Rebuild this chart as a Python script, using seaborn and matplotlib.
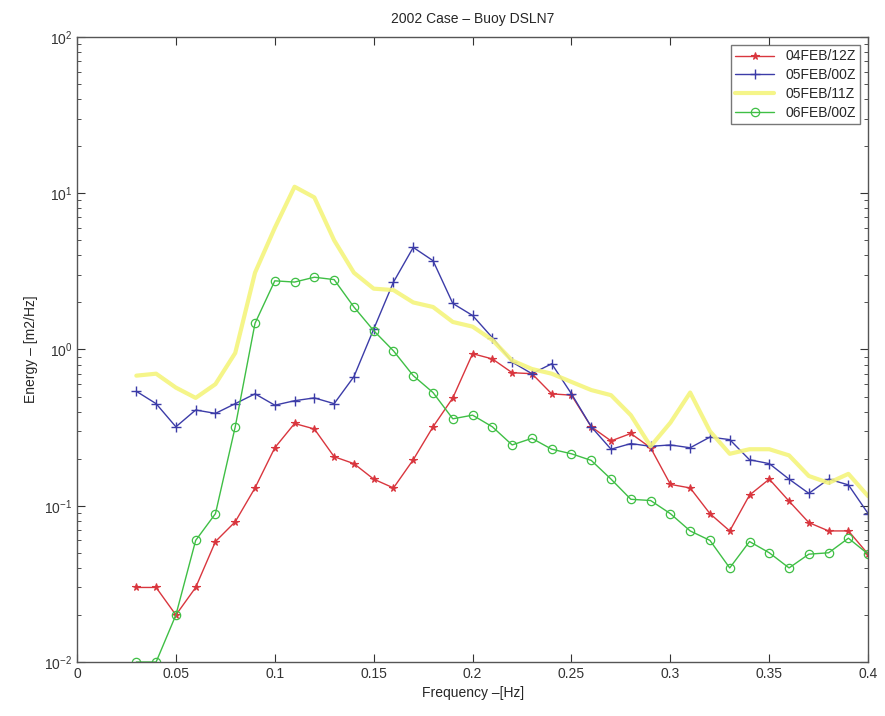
import numpy as np
import pandas as pd
import matplotlib
matplotlib.use("Agg")
import matplotlib.pyplot as plt
import seaborn as sns

freq = [0.03, 0.04, 0.05, 0.06, 0.07, 0.08, 0.09, 0.10, 0.11, 0.12, 0.13, 0.14,
        0.15, 0.16, 0.17, 0.18, 0.19, 0.20, 0.21, 0.22, 0.23, 0.24, 0.25, 0.26,
        0.27, 0.28, 0.29, 0.30, 0.31, 0.32, 0.33, 0.34, 0.35, 0.36, 0.37, 0.38,
        0.39, 0.40]

e_04feb12 = [0.030, 0.030, 0.020, 0.030, 0.059, 0.079, 0.13, 0.235, 0.336, 0.31,
             0.206, 0.186, 0.148, 0.13, 0.197, 0.32, 0.49, 0.94, 0.87, 0.71, 0.70,
             0.52, 0.51, 0.32, 0.26, 0.29, 0.235, 0.137, 0.13, 0.089, 0.069, 0.117,
             0.148, 0.107, 0.078, 0.069, 0.069, 0.049]

e_05feb00 = [0.54, 0.45, 0.32, 0.41, 0.39, 0.45, 0.52, 0.44, 0.47, 0.49, 0.45, 0.67,
             1.35, 2.7, 4.5, 3.7, 1.97, 1.65, 1.19, 0.83, 0.70, 0.81, 0.52, 0.32,
             0.23, 0.25, 0.24, 0.245, 0.235, 0.275, 0.265, 0.197, 0.186, 0.148,
             0.12, 0.148, 0.136, 0.089]

e_05feb11 = [0.68, 0.70, 0.57, 0.49, 0.60, 0.95, 3.1, 6.0, 11.0, 9.4, 5.0, 3.1,
             2.45, 2.4, 2.0, 1.87, 1.5, 1.4, 1.15, 0.85, 0.75, 0.70, 0.62, 0.55,
             0.51, 0.38, 0.24, 0.34, 0.53, 0.30, 0.215, 0.23, 0.23, 0.21, 0.155,
             0.14, 0.16, 0.115]

e_06feb00 = [0.010, 0.010, 0.020, 0.060, 0.089, 0.32, 1.47, 2.75, 2.7, 2.9, 2.8,
             1.87, 1.32, 0.98, 0.68, 0.53, 0.36, 0.38, 0.32, 0.245, 0.27, 0.23,
             0.215, 0.195, 0.148, 0.11, 0.108, 0.089, 0.069, 0.060, 0.040, 0.059,
             0.050, 0.040, 0.049, 0.050, 0.062, 0.049]

labels = ["04FEB/12Z", "05FEB/00Z", "05FEB/11Z", "06FEB/00Z"]
title = "2002 Case \u2013 Buoy DSLN7"
xlabel = "Frequency \u2013[Hz]"
ylabel = "Energy \u2013 [m2/Hz]"
xticks = [0, 0.05, 0.1, 0.15, 0.2, 0.25, 0.3, 0.35, 0.4]
xticklabels = ["0", "0.05", "0.1", "0.15", "0.2", "0.25", "0.3", "0.35", "0.4"]

sns.set_style("ticks")
plt.rcParams["font.family"] = ["Liberation Sans", "DejaVu Sans"]
plt.rcParams["font.size"] = 10

fig = plt.figure(figsize=(8.85, 7.16), dpi=100)
ax = fig.add_axes([0.087, 0.0754, 0.894, 0.873])

red, blue, yellow, green = "#d9363e", "#3c3ca8", "#f4f47c", "#3fbf45"
df = pd.DataFrame({"f": freq})
series = [
    (e_04feb12, dict(color=red, marker="*", markersize=5.5, linewidth=1.0,
                     markeredgewidth=0.8, markeredgecolor=red, markerfacecolor=red)),
    (e_05feb00, dict(color=blue, marker="+", markersize=7, linewidth=1.0,
                     markeredgewidth=1.0, markeredgecolor=blue)),
    (e_05feb11, dict(color=yellow, linewidth=3.0, alpha=0.9)),
    (e_06feb00, dict(color=green, marker="o", markersize=6, linewidth=1.0,
                     markerfacecolor="none", markeredgecolor=green,
                     markeredgewidth=0.9)),
]
for (vals, style), lab in zip(series, labels):
    d = df.assign(e=vals)
    sns.lineplot(data=d, x="f", y="e", ax=ax, label=lab, **style)

ax.set_yscale("log")
ax.set_xlim(0, 0.4)
ax.set_ylim(1e-2, 1e2)
ax.set_xticks(xticks)
ax.set_xticklabels(xticklabels)
ax.tick_params(which="both", direction="in", top=True, right=True,
               labelsize=10, colors="#333333")
ax.tick_params(which="major", length=6)
ax.tick_params(which="minor", length=3)
for s in ax.spines.values():
    s.set_color("#555555")
    s.set_linewidth(1.0)

ax.set_title(title, fontsize=10, pad=10)
ax.set_xlabel(xlabel, fontsize=10)
ax.set_ylabel(ylabel, fontsize=10)

leg = ax.legend(loc="upper right", fontsize=10, frameon=True, fancybox=False,
                edgecolor="#555555", borderaxespad=0.6, handlelength=2.8,
                labelspacing=0.35, borderpad=0.3)
leg.get_frame().set_linewidth(1.0)

fig.savefig("out.png", dpi=100)
